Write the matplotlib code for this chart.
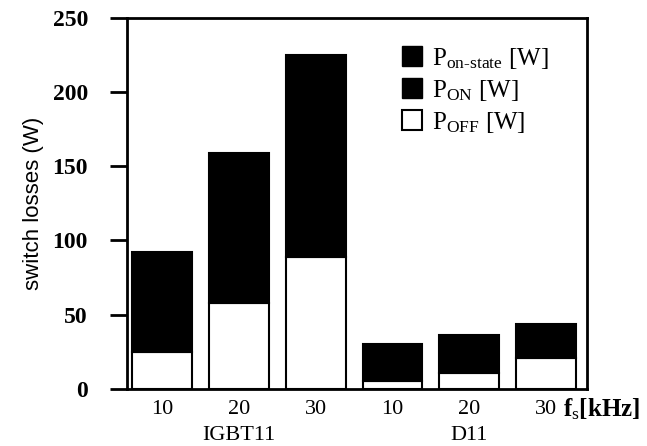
import matplotlib.pyplot as plt
from matplotlib.patches import Patch

# values (W)
freqs = ['10', '20', '30', '10', '20', '30']
groups = ['IGBT11', 'D11']
p_off = [25, 58, 89, 5, 11, 21]
p_total = [92, 159, 225, 30, 36, 44]
p_on = [t - o for t, o in zip(p_total, p_off)]   # on-state + turn-on, both black

plt.rcParams['font.family'] = 'Liberation Serif'
plt.rcParams['mathtext.fontset'] = 'custom'
plt.rcParams['mathtext.rm'] = 'Liberation Serif'
plt.rcParams['mathtext.it'] = 'Liberation Serif'

fig = plt.figure(figsize=(6.47, 4.46), dpi=100)
ax = fig.add_axes([0.196, 0.128, 0.711, 0.832])

x = list(range(len(freqs)))
ax.bar(x, p_off, width=0.78, color='white', edgecolor='black', linewidth=1.5)
ax.bar(x, p_on, bottom=p_off, width=0.78, color='black', edgecolor='black', linewidth=1.5)

ax.set_xlim(-0.46, 5.53)
ax.set_ylim(0, 250)
ax.set_yticks([0, 50, 100, 150, 200, 250])
ax.set_yticklabels(['0', '50', '100', '150', '200', '250'], fontsize=17, fontweight='bold')
ax.set_xticks(x)
ax.set_xticklabels(freqs, fontsize=16)
ax.tick_params(axis='y', direction='out', length=12, width=2, pad=16)
ax.tick_params(axis='x', length=0, pad=8)
for s in ax.spines.values():
    s.set_linewidth(2)

ax.set_ylabel('switch losses (W)', family='Liberation Sans', fontsize=16, labelpad=6)

# group names under the frequency labels
ax.text(1, -0.125, groups[0], transform=ax.get_xaxis_transform(), ha='center', va='center', fontsize=16)
ax.text(4, -0.125, groups[1], transform=ax.get_xaxis_transform(), ha='center', va='center', fontsize=16)
ax.text(5.22, -0.055, r'f$_\mathrm{s}$[kHz]', transform=ax.get_xaxis_transform(), ha='left', va='center',
        fontsize=18, fontweight='bold')

handles = [Patch(facecolor='black', edgecolor='black'),
           Patch(facecolor='black', edgecolor='black'),
           Patch(facecolor='white', edgecolor='black', linewidth=1.5)]
labels = [r'P$_\mathrm{on\text{-}state}$ [W]', r'P$_\mathrm{ON}$ [W]', r'P$_\mathrm{OFF}$ [W]']
ax.legend(handles, labels, loc='upper left', bbox_to_anchor=(0.598, 0.925), frameon=False,
          fontsize=18, handlelength=0.8, handleheight=0.8, handletextpad=0.4,
          labelspacing=0.28, borderpad=0, borderaxespad=0)

plt.savefig('out.png', dpi=100)
